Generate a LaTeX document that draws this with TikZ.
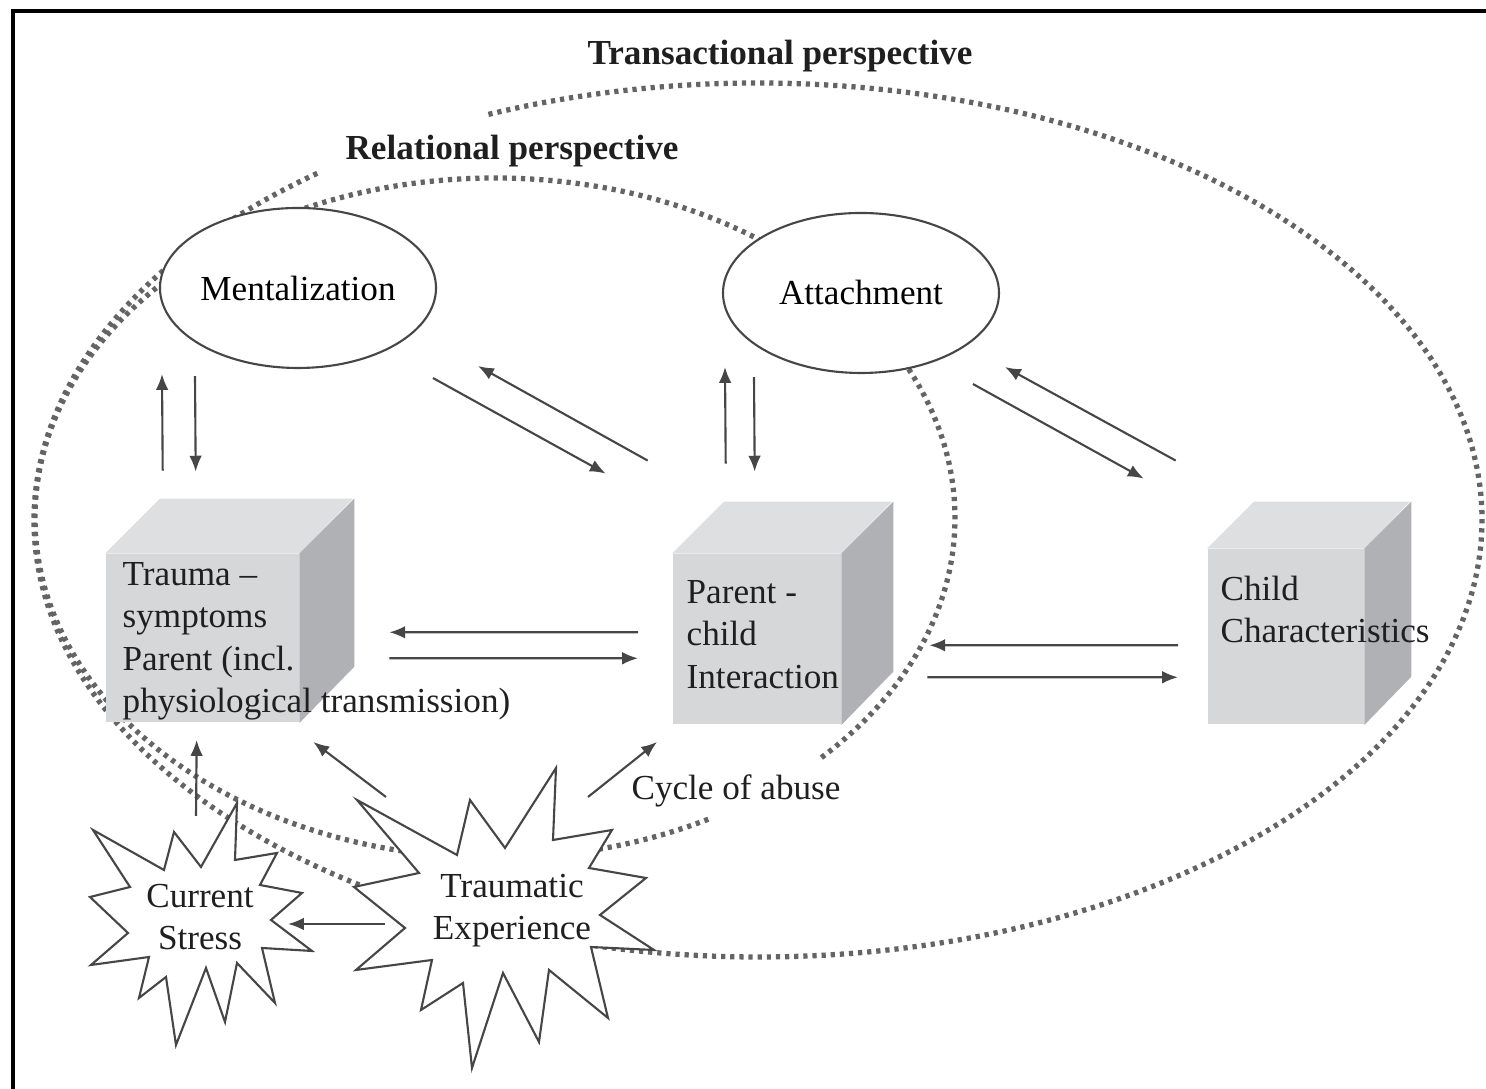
\documentclass[tikz,border=0pt]{standalone}
\usepackage{fontspec}
\setmainfont{Liberation Serif}
\usetikzlibrary{arrows.meta,calc,shapes.geometric}

\definecolor{cubefront}{RGB}{214,215,217}
\definecolor{cubetop}{RGB}{222,223,225}
\definecolor{cubeside}{RGB}{176,177,180}
\definecolor{dotgray}{RGB}{100,100,100}
\definecolor{linegray}{RGB}{70,70,70}

\tikzset{
  perspective/.style={dotgray, line width=1.5pt, dash pattern=on 1.2pt off 1.4pt},
  oval/.style={ellipse, draw=linegray, line width=0.6pt, fill=white, minimum width=2.76cm, minimum height=1.6cm, inner sep=0pt},
  front/.style={fill=cubefront, inner sep=0pt, anchor=south west},
  burst/.style={draw=linegray, line width=0.6pt, fill=white, line join=miter},
  arr/.style={draw=linegray, line width=0.6pt, -{Latex[length=4.5pt,width=3.6pt]}},
  lbl/.style={align=left, anchor=north west, inner sep=0pt, text=black!88},
  title/.style={font=\bfseries, text=black!88},
}

% name, south west corner, width, height, depth
\newcommand\boxcube[5]{
  \node[front, minimum width=#3cm, minimum height=#4cm] (#1) at (#2) {};
  \fill[cubetop] (#1.north west) -- ++(#5,#5) -- ++(#3,0) -- (#1.north east) -- cycle;
  \fill[cubeside] (#1.north east) -- ++(#5,#5) -- ++(0,-#4) -- (#1.south east) -- cycle;
}

\begin{document}
\begin{tikzpicture}
\useasboundingbox (0,0) rectangle (14.86,10.89);
\draw[line width=1pt] (0.13,0) -- (0.13,10.78) -- (14.86,10.78);

% perspectives
\draw[perspective] (7.58,5.69) ++(127.5:7.24 and 4.37) arc[start angle=127.5, end angle=472, x radius=7.24, y radius=4.37];
\draw[perspective] (4.95,5.71) ++(-44.8:4.60 and 3.40) arc[start angle=-44.8, end angle=297.7, x radius=4.60, y radius=3.40];
\node[title] (trans) at (7.80,10.33) {Transactional perspective};
\node[title] (rel) at (5.12,9.38) {Relational perspective};

% cubes
\boxcube{trauma}{1.05,3.66}{1.93}{1.68}{0.55}
\boxcube{pci}{6.72,3.64}{1.68}{1.70}{0.52}
\boxcube{child}{12.07,3.64}{1.56}{1.75}{0.47}
\node[lbl] (traumatxt) at (1.22,5.27) {Trauma –\\symptoms\\Parent (incl.\\physiological transmission)};
\node[lbl] (pcitxt) at (6.86,5.09) {Parent -\\child\\Interaction};
\node[lbl] (childtxt) at (12.20,5.14) {Child\\Characteristics};

% ovals
\node[oval] (ment) at (2.98,8.01) {Mentalization};
\node[oval] (attach) at (8.61,7.96) {Attachment};

% bursts
\draw[burst] (2.37,2.86) -- (2.35,2.29) -- (2.77,2.36) -- (2.60,2.04) -- (3.02,1.96) -- (2.71,1.69)
  -- (3.12,1.38) -- (2.62,1.41) -- (2.75,0.86) -- (2.37,1.26) -- (2.25,0.67) -- (2.06,1.21)
  -- (1.76,0.44) -- (1.66,1.12) -- (1.39,0.91) -- (1.49,1.32) -- (0.91,1.24) -- (1.28,1.56)
  -- (0.90,1.92) -- (1.30,2.02) -- (0.93,2.59) -- (1.64,2.19) -- (1.74,2.57) -- (2.01,2.22) -- cycle;
\draw[burst] (3.57,2.89) -- (4.57,2.34) -- (4.70,2.89) -- (5.05,2.41) -- (5.56,3.21) -- (5.53,2.49)
  -- (6.12,2.59) -- (5.89,2.21) -- (6.46,2.11) -- (6.00,1.74) -- (6.54,1.39) -- (5.91,1.42)
  -- (6.08,0.71) -- (5.49,1.19) -- (5.39,0.47) -- (5.03,1.16) -- (4.72,0.21) -- (4.63,1.06)
  -- (4.21,0.79) -- (4.32,1.29) -- (3.56,1.19) -- (4.05,1.61) -- (3.54,2.02) -- (4.19,2.16) -- cycle;
\node[align=center, text=black!88] (cstress) at (2.00,1.72) {Current\\Stress};
\node[align=center, text=black!88] (trexp) at (5.12,1.78) {Traumatic\\Experience};
\node[text=black!88] (abuse) at (7.36,2.98) {Cycle of abuse};

% arrows
\draw[arr] ([shift={(-0.395,0.83)}]trauma.north) -- ([shift={(-1.36,-0.05)}]ment.south);
\draw[arr] ([shift={(-1.03,-0.07)}]ment.south) -- ([shift={(-0.065,0.82)}]trauma.north);
\draw[arr] ([shift={(1.35,-0.09)}]ment.south) -- ([shift={(-1.51,0.80)}]pci.north);
\draw[arr] ([shift={(-1.09,0.93)}]pci.north) -- ([shift={(1.80,0.03)}]ment.south);
\draw[arr] ([shift={(-0.31,0.90)}]pci.north) -- ([shift={(-1.36,0.07)}]attach.south);
\draw[arr] ([shift={(-1.07,-0.03)}]attach.south) -- ([shift={(-0.02,0.82)}]pci.north);
\draw[arr] ([shift={(1.12,-0.10)}]attach.south) -- ([shift={(-1.42,0.70)}]child.north);
\draw[arr] ([shift={(-1.10,0.88)}]child.north) -- ([shift={(1.44,0.07)}]attach.south);
\draw[arr] ([shift={(-0.34,0.07)}]pci.west) -- ([shift={(0.90,0.06)}]trauma.east);
\draw[arr] ([shift={(0.90,-0.20)}]trauma.east) -- ([shift={(-0.34,-0.19)}]pci.west);
\draw[arr] ([shift={(-0.29,-0.085)}]child.west) -- ([shift={(0.88,-0.06)}]pci.east);
\draw[arr] ([shift={(0.86,-0.38)}]pci.east) -- ([shift={(-0.29,-0.405)}]child.west);
\draw[arr] ([shift={(-0.04,1.01)}]cstress.center) -- ([shift={(-0.055,-0.17)}]trauma.south);
\draw[arr] ([shift={(-1.26,1.14)}]trexp.center) -- ([shift={(0.14,-0.19)}]trauma.south east);
\draw[arr] ([shift={(0.76,1.14)}]trexp.center) -- ([shift={(-0.15,-0.17)}]pci.south west);
\draw[arr] ([shift={(-1.27,-0.13)}]trexp.center) -- ([shift={(0.88,-0.07)}]cstress.center);
\end{tikzpicture}
\end{document}
